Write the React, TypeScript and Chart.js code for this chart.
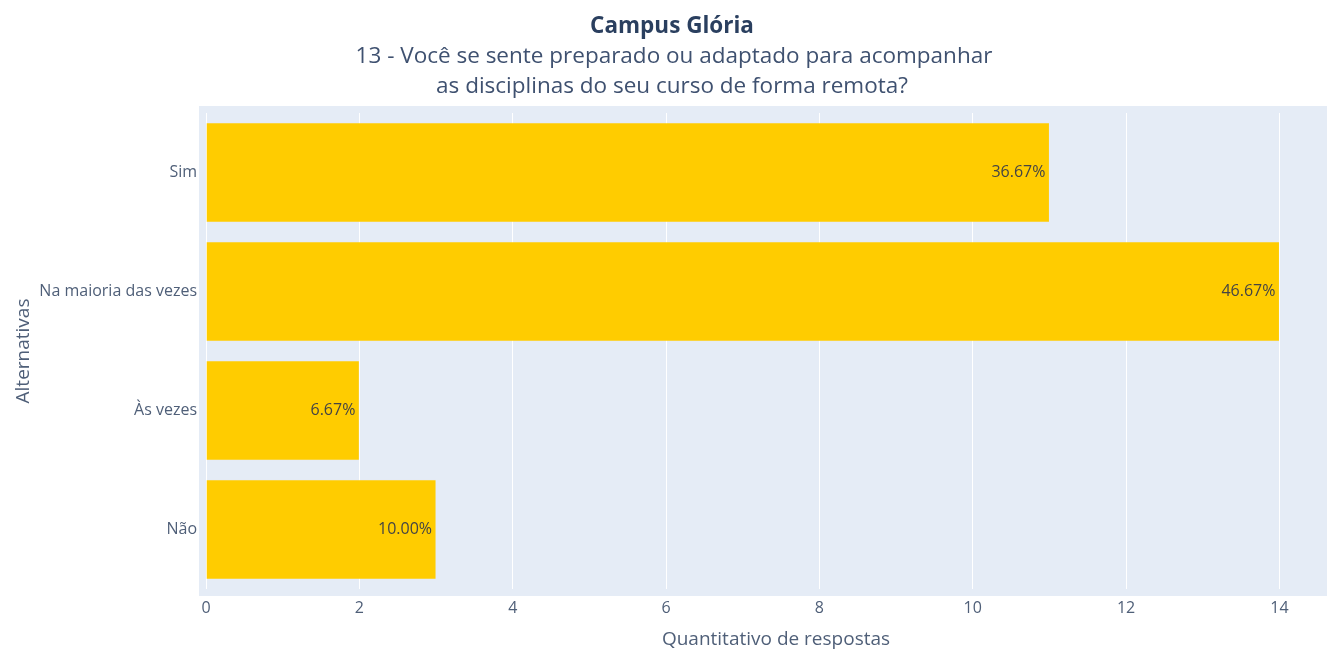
import React, { useEffect, useRef } from "react";
import { Chart, registerables } from "chart.js";

Chart.register(...registerables);

const categories = ["Sim", "Na maioria das vezes", "Às vezes", "Não"];
const counts = [11, 14, 2, 3];
const xTickValues = [0, 2, 4, 6, 8, 10, 12, 14];

const titleText = "Campus Glória";
const subtitleLines = [
  "13 - Você se sente preparado ou adaptado para acompanhar",
  "as disciplinas do seu curso de forma remota?",
];
const xAxisTitle = "Quantitativo de respostas";
const yAxisTitle = "Alternativas";

const FONT = "'Open Sans', 'Noto Sans', sans-serif";
const TEXT = "#2a3f5f";
const AXIS_TEXT = "#4f5f78";
const BAR = "#FFCC00";
const BG = "#E5ECF6";

const total = counts.reduce((a, b) => a + b, 0);

const decorPlugin = {
  id: "decor",
  beforeDraw(chart: any) {
    const { ctx, chartArea } = chart;
    ctx.save();
    ctx.fillStyle = BG;
    ctx.fillRect(chartArea.left - 7, chartArea.top - 7, chart.width - (chartArea.left - 7), chartArea.bottom - chartArea.top + 14);
    ctx.restore();
  },
  afterDraw(chart: any) {
    const { ctx } = chart;
    ctx.save();
    ctx.textAlign = "center";
    ctx.textBaseline = "alphabetic";
    ctx.fillStyle = TEXT;
    ctx.font = `bold 22.5px ${FONT}`;
    ctx.fillText(titleText, 672, 33);
    ctx.font = `22.5px ${FONT}`;
    ctx.fillStyle = "#3f5170";
    ctx.fillText(subtitleLines[0], 674, 63);
    ctx.fillText(subtitleLines[1], 672, 93);
    ctx.font = `19px ${FONT}`;
    ctx.fillStyle = AXIS_TEXT;
    ctx.fillText(xAxisTitle, 776, 645);
    ctx.translate(29, 351);
    ctx.rotate(-Math.PI / 2);
    ctx.fillText(yAxisTitle, 0, 0);
    ctx.restore();

    const meta = chart.getDatasetMeta(0);
    ctx.save();
    ctx.font = `16px ${FONT}`;
    ctx.fillStyle = "#444444";
    ctx.textAlign = "right";
    ctx.textBaseline = "middle";
    meta.data.forEach((bar: any, i: number) => {
      const pct = ((counts[i] / total) * 100).toFixed(2) + "%";
      ctx.fillText(pct, bar.x - 4, bar.y);
    });
    ctx.restore();
  },
};

export default function App() {
  const ref = useRef<HTMLCanvasElement | null>(null);
  useEffect(() => {
    if (!ref.current) return;
    const chart = new Chart(ref.current, {
      type: "bar",
      data: {
        labels: categories,
        datasets: [
          {
            data: counts,
            backgroundColor: BAR,
            borderColor: "rgba(229,236,246,0.6)",
            borderWidth: 0.5,
            barPercentage: 0.838,
            categoryPercentage: 1,
          },
        ],
      },
      options: {
        indexAxis: "y",
        animation: false,
        responsive: true,
        maintainAspectRatio: false,
        layout: { padding: { top: 113, left: 0, right: 0, bottom: 0 } },
        plugins: {
          legend: { display: false },
          tooltip: { enabled: false },
          title: { display: false },
        },
        scales: {
          x: {
            type: "linear",
            min: 0,
            max: 14.62,
            grid: { color: "#ffffff", lineWidth: 1, drawTicks: false },
            border: { display: false },
            ticks: {
              stepSize: 2,
              padding: 10,
              color: AXIS_TEXT,
              font: { family: FONT, size: 16 },
            },
            afterBuildTicks: (scale: any) => {
              scale.ticks = xTickValues.map((v) => ({ value: v }));
            },
            afterFit: (scale: any) => {
              scale.height = 61;
            },
          },
          y: {
            type: "category",
            grid: { display: false, drawTicks: false },
            border: { display: false },
            ticks: {
              padding: 9,
              color: AXIS_TEXT,
              font: { family: FONT, size: 16 },
            },
            afterFit: (scale: any) => {
              scale.width = 206;
            },
          },
        },
      },
      plugins: [decorPlugin],
    });
    return () => chart.destroy();
  }, []);

  return (
    <div style={{ position: "fixed", left: 0, top: 0, width: 1327, height: 650, background: "#ffffff" }}>
      <canvas ref={ref} />
    </div>
  );
}
